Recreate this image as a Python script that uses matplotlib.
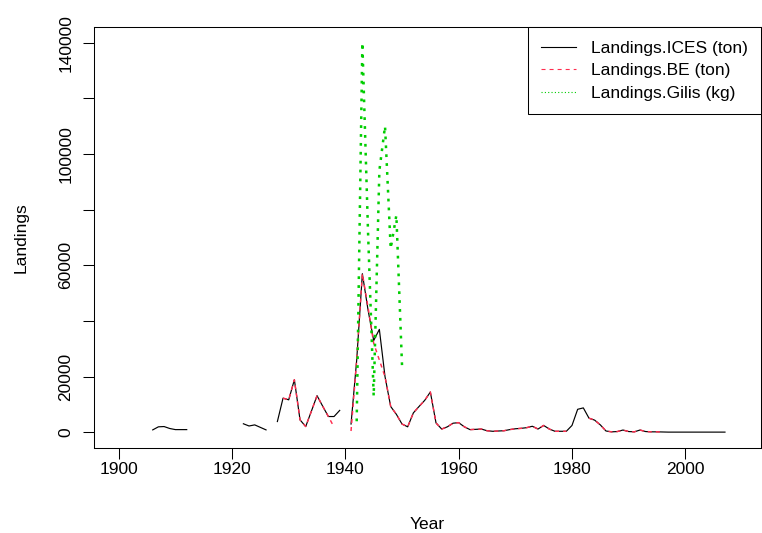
import matplotlib.pyplot as plt
from matplotlib.lines import Line2D
import numpy as np

plt.rcParams['font.family'] = 'Liberation Sans'
plt.rcParams['lines.scale_dashes'] = False

nan = np.nan

# annual landings, one value per year from 1906 to 2007 (nan = no record)
years = list(range(1906, 2008))

ices = [
    900, 2000, 2100, 1400, 1000, 1000, 1000, nan, nan, nan,            # 1906-1915
    nan, nan, nan, nan, nan, nan, 3100, 2300, 2700, 1800,              # 1916-1925
    900, nan, 3900, 12300, 11700, 18900, 4500, 2100, 7600, 13200,      # 1926-1935
    9400, 5700, 5700, 7900, nan, 3000, 26000, 57000, 44000, 33000,     # 1936-1945
    37000, 20000, 9300, 6500, 3000, 2000, 7000, 9300, 11500, 14500,    # 1946-1955
    3400, 1200, 2000, 3300, 3500, 2000, 1000, 1100, 1200, 600,         # 1956-1965
    400, 500, 600, 1000, 1300, 1450, 1700, 2200, 1200, 2500,           # 1966-1975
    1200, 400, 400, 400, 2500, 8300, 8800, 5100, 4400, 2700,           # 1976-1985
    500, 200, 300, 850, 300, 200, 850, 300, 200, 200,                  # 1986-1995
    150, 100, 100, 100, 100, 100, 100, 100, 100, 100,                  # 1996-2005
    100, 100,                                                          # 2006-2007
]

be = [
    nan, nan, nan, nan, nan, nan, nan, nan, nan, nan,                  # 1906-1915
    nan, nan, nan, nan, nan, nan, nan, nan, nan, nan,                  # 1916-1925
    nan, nan, nan, 12300, 11700, 18900, 4500, 2100, 7600, 13200,       # 1926-1935
    9400, 5700, 1900, nan, nan, 500, 26000, 57000, 45000, 32000,       # 1936-1945
    26000, 20000, 9300, 6500, 3000, 2000, 7000, 9300, 11500, 14500,    # 1946-1955
    3400, 1200, 2000, 3300, 3500, 2000, 1000, 1100, 1200, 600,         # 1956-1965
    400, 500, 600, 1000, 1300, 1450, 1700, 2200, 1200, 2500,           # 1966-1975
    1200, 400, 400, 400, nan, nan, nan, 5100, 4400, 2700,              # 1976-1985
    500, 200, 300, 850, 300, 200, 850, 300, 200, 200,                  # 1986-1995
    150, nan, nan, nan, nan, nan, nan, nan, nan, nan,                  # 1996-2005
    nan, nan,                                                          # 2006-2007
]

gilis_years = list(range(1942, 1951))
gilis = [4000, 140000, 72000, 13000, 94000, 110000, 66000, 78000, 24000]

labels = ['Landings.ICES (ton)', 'Landings.BE (ton)', 'Landings.Gilis (kg)']
xticks = [1900, 1920, 1940, 1960, 1980, 2000]
yticks = [0, 20000, 40000, 60000, 80000, 100000, 120000, 140000]
ytick_labels = ['0', '20000', '', '60000', '', '100000', '', '140000']

red = '#FF2D4F'
green = '#00CD00'

fig = plt.figure(figsize=(7.62, 5.33), dpi=100)
ax = fig.add_axes([0.1234, 0.1595, 0.8753, 0.7898])

ax.plot(years, ices, color='black', lw=0.85)
ax.plot(years, be, color=red, lw=1.05, ls=(0, (2.9, 2.9)))
ax.plot(gilis_years, gilis, color=green, lw=1.8, ls=(0, (2.0, 4.4)))

ax.set_xlim(1895.64, 2013.36)
ax.set_ylim(-5600, 145600)
ax.set_xticks(xticks)
ax.set_yticks(yticks)
ax.set_yticklabels(ytick_labels, rotation=90, va='center')

for s in ax.spines.values():
    s.set_linewidth(0.75)
ax.tick_params(direction='out', length=8, width=0.75, labelsize=12.5)
ax.tick_params(axis='x', pad=2)
ax.tick_params(axis='y', pad=7)

ax.set_xlabel('Year', fontsize=12.5, labelpad=29)
ax.set_ylabel('Landings', fontsize=12.5, labelpad=21)

# legend keys are drawn thinner than the plotted lines
handles = [
    Line2D([], [], color='black', lw=0.8),
    Line2D([], [], color=red, lw=0.8, ls=(0, (2.9, 2.9))),
    Line2D([], [], color=green, lw=0.8, ls=(0, (0.8, 1.6))),
]
leg = ax.legend(handles, labels, loc='upper right', borderaxespad=0,
                fancybox=False, edgecolor='black', framealpha=1,
                fontsize=12.5, handlelength=2.0, handletextpad=0.85,
                borderpad=0.78, labelspacing=0.42)
leg.get_frame().set_linewidth(0.75)

plt.savefig('out.png', dpi=100)
